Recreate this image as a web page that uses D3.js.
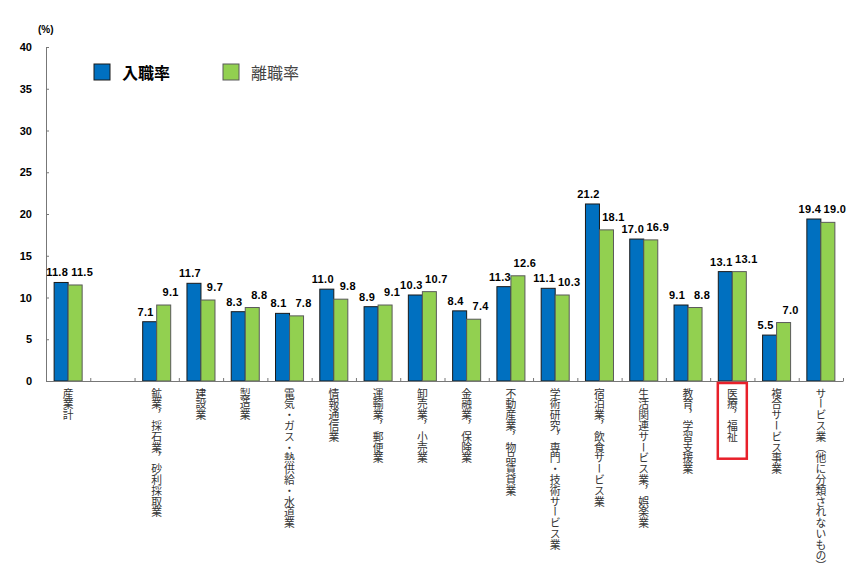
<!DOCTYPE html>
<html>
<head>
<meta charset="utf-8">
<script src="https://cdn.jsdelivr.net/npm/d3@7"></script>
<style>
  body { margin: 0; background: #fff; }
  svg { display: block; }
</style>
</head>
<body>
<svg width="854" height="579"></svg>
<script>
// 産業別 入職率・離職率 (%)
var categories = ["産業計", "鉱業，採石業，砂利採取業", "建設業", "製造業",
  "電気・ガス・熱供給・水道業", "情報通信業", "運輸業，郵便業", "卸売業，小売業",
  "金融業，保険業", "不動産業，物品賃貸業", "学術研究，専門・技術サービス業",
  "宿泊業，飲食サービス業", "生活関連サービス業，娯楽業", "教育，学習支援業",
  "医療，福祉", "複合サービス事業", "サービス業（他に分類されないもの）"];
var nyushoku = [11.8, 7.1, 11.7, 8.3, 8.1, 11.0, 8.9, 10.3, 8.4, 11.3, 11.1, 21.2, 17.0, 9.1, 13.1, 5.5, 19.4];
var rishoku  = [11.5, 9.1, 9.7, 8.8, 7.8, 9.8, 9.1, 10.7, 7.4, 12.6, 10.3, 18.1, 16.9, 8.8, 13.1, 7.0, 19.0];
var seriesNames = ["入職率", "離職率"];
var yTicks = [0, 5, 10, 15, 20, 25, 30, 35, 40];
var highlight = "医療，福祉";

var colors = ["#0070C0", "#92D050"];
var strokes = ["#1a1a1a", "#5a5a5a"];

var svg = d3.select("svg");
// (window.top is read-only, so use other names)
var mLeft = 46, mRight = 843, mTop = 47, mBottom = 381;

// 産業計の後に空き枠がひとつある
var slots = [categories[0], "_gap"].concat(categories.slice(1));

var x = d3.scaleBand().domain(slots).range([mLeft, mRight]).paddingInner(0).paddingOuter(0);
var x1 = d3.scaleBand().domain([0, 1]).range([0, x.bandwidth()]).paddingInner(0).paddingOuter(0.58);
var y = d3.scaleLinear().domain([0, 40]).range([mBottom, mTop]);

// y axis
var yAxis = svg.append("g")
  .attr("transform", "translate(" + mLeft + ",0)")
  .call(d3.axisLeft(y).tickValues(yTicks).tickSizeInner(-3).tickSizeOuter(0).tickPadding(14));
yAxis.select(".domain").attr("stroke", "#777");
yAxis.selectAll(".tick line").attr("stroke", "#777");
yAxis.selectAll(".tick text")
  .attr("font-family", "'Liberation Sans', Arial, sans-serif")
  .attr("font-weight", "bold")
  .attr("font-size", 11)
  .attr("fill", "#000");

svg.append("text")
  .attr("x", 38).attr("y", 33)
  .attr("font-family", "'Liberation Sans', Arial, sans-serif")
  .attr("font-weight", "bold")
  .attr("font-size", 10)
  .text("(%)");

// bars
var data = categories.map(function(c, i) {
  return { name: c, vals: [nyushoku[i], rishoku[i]] };
});

var grp = svg.selectAll(".cat")
  .data(data)
  .enter().append("g")
  .attr("class", "cat")
  .attr("transform", function(d) { return "translate(" + x(d.name) + ",0)"; });

grp.selectAll("rect")
  .data(function(d) { return d.vals; })
  .enter().append("rect")
  .attr("x", function(d, i) { return x1(i); })
  .attr("width", x1.bandwidth())
  .attr("y", function(d) { return y(d); })
  .attr("height", function(d) { return mBottom - y(d); })
  .attr("fill", function(d, i) { return colors[i]; })
  .attr("stroke", function(d, i) { return strokes[i]; })
  .attr("stroke-width", 1);

grp.selectAll("text.val")
  .data(function(d) { return d.vals; })
  .enter().append("text")
  .attr("class", "val")
  .attr("x", function(d, i) { return x1(i) + x1.bandwidth() / 2 + (i == 0 ? -4 : 7); })
  .attr("y", function(d, i) { return y(d) - (i == 0 ? 6 : 9); })
  .attr("text-anchor", "middle")
  .attr("font-family", "'Liberation Sans', Arial, sans-serif")
  .attr("font-weight", "bold")
  .attr("font-size", 11)
  .attr("letter-spacing", 0.3)
  .text(function(d) { return d.toFixed(1); });

// x axis: ticks at slot boundaries
var xi = d3.scaleLinear().domain([0, slots.length]).range([mLeft, mRight]);
var xAxis = svg.append("g")
  .attr("transform", "translate(0," + mBottom + ")")
  .call(d3.axisBottom(xi).ticks(slots.length).tickSizeInner(-3).tickSizeOuter(0).tickFormat(""));
xAxis.select(".domain").attr("stroke", "#777");
xAxis.selectAll(".tick line").attr("stroke", "#777");

// vertical category labels
var labTop = 388;
var labels = svg.selectAll(".lab")
  .data(categories)
  .enter().append("text")
  .attr("class", "lab")
  .attr("x", function(d) { return x(d) + x.bandwidth() / 2; })
  .attr("y", labTop)
  .style("writing-mode", "vertical-rl")
  .attr("font-family", "'Noto Sans CJK JP', sans-serif")
  .attr("font-size", 10.8)
  .attr("fill", "#333")
  .text(function(d) { return d; });

// red box round the highlighted label
labels.filter(function(d) { return d == highlight; }).each(function(d) {
  var b = this.getBBox();
  var cx = x(d) + x.bandwidth() / 2;
  svg.append("rect")
    .attr("x", cx - 14.5)
    .attr("y", mBottom + 2)
    .attr("width", 29)
    .attr("height", b.y + b.height - mBottom + 14)
    .attr("fill", "none")
    .attr("stroke", "#E8202A")
    .attr("stroke-width", 2.5);
});

// legend
var legX = [94, 223];
var leg = svg.selectAll(".leg")
  .data(seriesNames)
  .enter().append("g")
  .attr("class", "leg")
  .attr("transform", function(d, i) { return "translate(" + legX[i] + ",64)"; });
leg.append("rect")
  .attr("width", 16).attr("height", 16)
  .attr("fill", function(d, i) { return colors[i]; })
  .attr("stroke", function(d, i) { return strokes[i]; });
leg.append("text")
  .attr("x", 28).attr("y", 15)
  .attr("font-family", "'Noto Sans CJK JP', sans-serif")
  .attr("font-size", 16)
  .attr("font-weight", function(d, i) { return i == 0 ? "bold" : "normal"; })
  .attr("fill", function(d, i) { return i == 0 ? "#000" : "#444"; })
  .text(function(d) { return d; });
</script>
</body>
</html>
